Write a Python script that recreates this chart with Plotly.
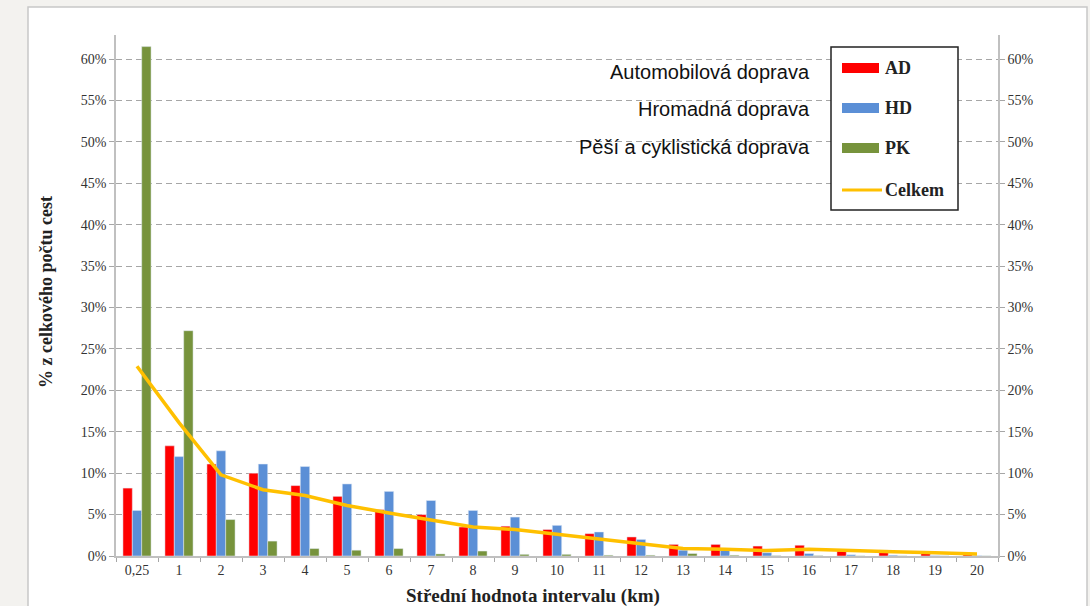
import plotly.graph_objs as go

# intervals (km) and shares of trips (%)
categories = ["0,25"] + [str(i) for i in range(1, 21)]
ad = [8.2, 13.3, 11.1, 10.0, 8.5, 7.2, 5.6, 5.0, 3.5, 3.6, 3.2, 2.7, 2.3, 1.4, 1.4, 1.2, 1.3, 0.6, 0.7, 0.5, 0.3]
hd = [5.5, 12.0, 12.7, 11.1, 10.8, 8.7, 7.8, 6.7, 5.5, 4.7, 3.7, 2.9, 2.0, 0.7, 0.7, 0.4, 0.3, 0.15, 0.1, 0.05, 0.05]
pk = [61.5, 27.2, 4.4, 1.8, 0.9, 0.7, 0.9, 0.25, 0.6, 0.2, 0.2, 0.1, 0.1, 0.3, 0.1, 0.05, 0.05, 0.02, 0.02, 0.02, 0.02]
celkem = [22.9, 16.1, 9.8, 8.0, 7.3, 6.1, 5.2, 4.4, 3.5, 3.2, 2.65, 2.05, 1.5, 0.9, 0.8, 0.65, 0.8, 0.6, 0.5, 0.4, 0.25]
tick_vals = list(range(0, 61, 5))
tick_text = [f"{v}%" for v in tick_vals]
mode_labels = ["Automobilová doprava", "Hromadná doprava", "Pěší a cyklistická doprava"]
legend_names = ["AD", "HD", "PK", "Celkem"]
colors = ["#ff0000", "#5b8fd6", "#77933c", "#ffc000"]

serif = "Liberation Serif"
grid_col = "#a6a6a6"

# plot area in pixels: left 116, right 998, top 35, bottom 556
def px(x):
    return (x - 116) / 882.0

def py(y):
    return (556 - y) / 521.0

fig = go.Figure()
for name, vals, col in zip(legend_names[:3], [ad, hd, pk], colors[:3]):
    fig.add_trace(go.Bar(x=categories, y=vals, name=name, marker_color=col))
fig.add_trace(go.Scatter(x=categories, y=celkem, name="Celkem", mode="lines",
                         line=dict(color=colors[3], width=3.5)))
# invisible trace so the right axis is drawn
fig.add_trace(go.Scatter(x=categories, y=celkem, yaxis="y2", mode="lines", opacity=0,
                         showlegend=False, hoverinfo="skip"))

yax = dict(range=[0, 62.9], tickvals=tick_vals, ticktext=tick_text, showgrid=True,
           gridcolor=grid_col, griddash="6px,4px", gridwidth=1, showline=True, linecolor="#c0c0c0",
           linewidth=1.5, ticks="outside", ticklen=5, tickcolor=grid_col, zeroline=False,
           tickfont=dict(family=serif, size=14, color="#333333"), fixedrange=True)

shapes = [dict(type="rect", xref="paper", yref="paper", x0=px(28), x1=px(1087), y0=py(640), y1=py(7),
               fillcolor="white", line=dict(color="#c8c8c8", width=1.5), layer="below")]
ann = []

# legend box drawn by hand (wide colour swatches like the original)
shapes.append(dict(type="rect", xref="paper", yref="paper", x0=px(831), x1=px(958), y0=py(210), y1=py(47),
                   fillcolor="white", line=dict(color="#222222", width=1.5)))
for i, (name, col) in enumerate(zip(legend_names, colors)):
    yc = [68, 108, 148, 190][i]
    if i < 3:
        shapes.append(dict(type="rect", xref="paper", yref="paper", x0=px(842), x1=px(879),
                           y0=py(yc + 5), y1=py(yc - 5), fillcolor=col, line=dict(width=0)))
    else:
        shapes.append(dict(type="line", xref="paper", yref="paper", x0=px(842), x1=px(882),
                           y0=py(yc), y1=py(yc), line=dict(color=col, width=3)))
    ann.append(dict(text=f"<b>{name}</b>", x=px(883), y=py(yc), xref="paper", yref="paper",
                    xanchor="left", yanchor="middle", showarrow=False,
                    font=dict(family=serif, size=18, color="#222222")))

for lab, yc in zip(mode_labels, [72, 109, 147]):
    ann.append(dict(text=lab, x=px(812), y=py(yc), xref="paper", yref="paper", xanchor="right",
                    yanchor="middle", showarrow=False,
                    font=dict(family="Liberation Sans", size=20, color="#111111")))
ann.append(dict(text="<b>% z celkového počtu cest</b>", x=px(46), y=py(292), xref="paper", yref="paper",
                textangle=-90, showarrow=False, xanchor="center", yanchor="middle",
                font=dict(family=serif, size=18, color="#222222")))
ann.append(dict(text="<b>Střední hodnota intervalu (km)</b>", x=px(533), y=py(596), xref="paper", yref="paper",
                showarrow=False, xanchor="center", yanchor="middle",
                font=dict(family=serif, size=19, color="#222222")))

fig.update_layout(
    width=1090, height=606,
    margin=dict(l=116, r=92, t=35, b=50),
    paper_bgcolor="#f3f2ef",
    plot_bgcolor="white",
    barmode="group",
    bargap=0.33,
    bargroupgap=0,
    showlegend=False,
    xaxis=dict(type="category", showline=True, linecolor="#c0c0c0", linewidth=1.5,
               ticks="outside", tickson="boundaries", ticklen=4, tickcolor=grid_col,
               tickfont=dict(family=serif, size=14, color="#333333"), showgrid=False),
    yaxis=yax,
    yaxis2=dict(yax, overlaying="y", side="right", anchor="x", showgrid=False),
    shapes=shapes,
    annotations=ann,
)

fig.write_html("out.html", config={"displayModeBar": False},
               post_script="document.body.style.margin='0px';")
